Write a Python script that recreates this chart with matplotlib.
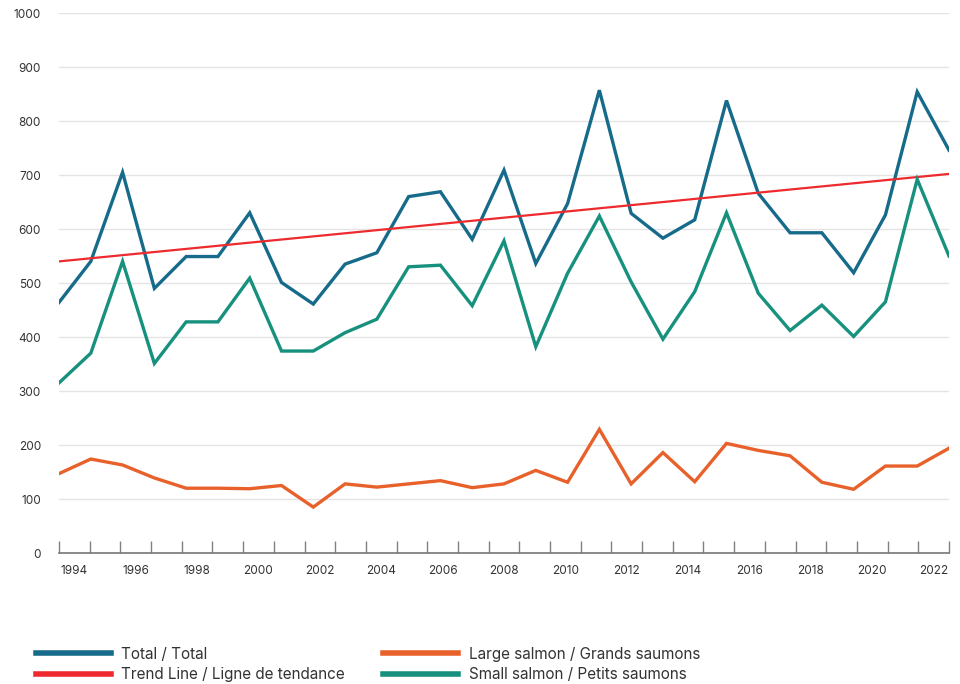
import numpy as np
import matplotlib
matplotlib.use("Agg")
import matplotlib.pyplot as plt
from matplotlib.lines import Line2D

plt.rcParams["font.family"] = ["Inter", "DejaVu Sans"]

# Data
years = list(range(1994, 2023))
total = [464, 540, 705, 490, 549, 549, 630, 501, 461, 535, 556, 660, 669, 581, 709,
         536, 647, 857, 629, 583, 617, 838, 666, 593, 593, 519, 626, 854, 746]
large = [147, 174, 163, 139, 120, 120, 119, 125, 85, 128, 122, 128, 134, 121, 128,
         153, 131, 229, 128, 186, 132, 203, 190, 180, 131, 118, 161, 161, 194]
small = [315, 370, 540, 351, 428, 428, 509, 374, 374, 408, 433, 530, 533, 458, 578,
         382, 518, 624, 502, 396, 484, 630, 481, 412, 459, 401, 465, 692, 550]
trend_years = [1994, 2022]
trend = [540, 702]

c_total = "#176B8A"
c_trend = "#EE2A2E"
c_large = "#E8612B"
c_small = "#17917E"

fig = plt.figure(figsize=(9.6, 6.84), dpi=100)
ax = fig.add_axes([59 / 960, 1 - 553 / 684, 890 / 960, 540 / 684])

ax.plot(years, total, color=c_total, lw=2.4, solid_joinstyle="miter")
ax.plot(trend_years, trend, color=c_trend, lw=1.6)
ax.plot(years, large, color=c_large, lw=2.4, solid_joinstyle="miter")
ax.plot(years, small, color=c_small, lw=2.4, solid_joinstyle="miter")

ax.set_xlim(years[0], years[-1])
ax.set_ylim(0, 1000)

# category style axis: tick marks at boundaries, labels centred in categories
n = len(years)
span = years[-1] - years[0]
step = span / n
ax.set_xticks([years[0] + k * step for k in range(n + 1)])
ax.set_xticklabels([])
ax.set_xticks([years[0] + (i + 0.5) * step for i in range(0, n, 2)], minor=True)
ax.set_xticklabels([str(y) for y in years[::2]], minor=True)
ax.tick_params(axis="x", which="major", direction="in", length=8.5, width=1, color="#808080")
ax.tick_params(axis="x", which="minor", length=0, pad=9, labelsize=8.5, labelcolor="#333333")

ax.set_yticks(range(0, 1001, 100))
ax.tick_params(axis="y", length=0, pad=13, labelsize=8.5, labelcolor="#333333")
ax.grid(axis="y", color="#e4e4e4", lw=1)
ax.set_axisbelow(True)

for s in ["top", "right", "left"]:
    ax.spines[s].set_visible(False)
ax.spines["bottom"].set_color("#777777")
ax.spines["bottom"].set_linewidth(1.2)

handles = [
    Line2D([], [], color=c_total, lw=4),
    Line2D([], [], color=c_trend, lw=4),
    Line2D([], [], color=c_large, lw=4),
    Line2D([], [], color=c_small, lw=4),
]
labels = ["Total / Total", "Trend Line / Ligne de tendance",
          "Large salmon / Grands saumons", "Small salmon / Petits saumons"]
fig.legend(handles, labels, ncol=2, loc="upper left", bbox_to_anchor=(22 / 960, 1 - 633 / 684),
           frameon=False, fontsize=11, handlelength=4.9, handletextpad=0.7,
           columnspacing=2.5, labelspacing=0.35, labelcolor="#333333")

fig.savefig("out.png", dpi=100)
